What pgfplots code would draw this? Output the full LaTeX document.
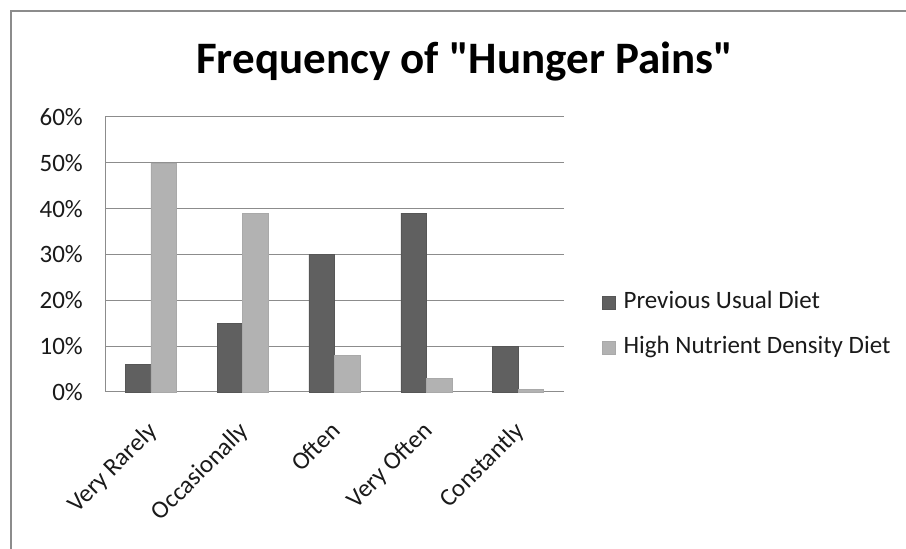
\documentclass[border=0pt]{standalone}
\usepackage{pgfplots}
\pgfplotsset{compat=1.18}
\usepackage{fontspec}
\setmainfont{Carlito}
\definecolor{darkbar}{HTML}{606060}
\definecolor{lightbar}{HTML}{B2B2B2}
\definecolor{gridc}{HTML}{8C8C8C}
\definecolor{framec}{HTML}{8C8C8C}
\definecolor{textc}{HTML}{1A1A1A}
\begin{document}
\begin{tikzpicture}[x=1pt,y=1pt]
\path[use as bounding box] (0,0) rectangle (906,549);
\draw[framec, line width=2pt] (10.5,0) -- (10.5,538) -- (906,538);
\begin{axis}[
  at={(105pt,157pt)}, anchor=south west,
  scale only axis, width=459pt, height=275pt,
  xmin=-0.5, xmax=4.5, ymin=0, ymax=60,
  ybar=0pt, bar width=0.278,
  xtick={0,1,2,3,4},
  xticklabels={Very Rarely, Occasionally, Often, Very Often, Constantly},
  ytick={0,10,20,30,40,50,60},
  yticklabels={0\%,10\%,20\%,30\%,40\%,50\%,60\%},
  major tick length=0pt,
  axis x line*=bottom, axis y line*=left,
  axis line style={gridc, line width=1pt},
  ymajorgrids, grid style={gridc, line width=1pt},
  tick label style={font=\fontsize{25}{29}\selectfont, text=textc},
  yticklabel style={inner sep=0pt, xshift=-22pt},
  xticklabel style={anchor=north east, inner sep=0pt, xshift=-5pt, yshift=-28pt, rotate=45},
  title={\fontsize{45}{52}\selectfont\bfseries Frequency of \textquotedbl Hunger Pains\textquotedbl},
  title style={at={(rel axis cs:0.784,1.138)}, anchor=base, inner sep=0pt},
  legend style={draw=none, fill=none, at={(rel axis cs:1.076,0.242)}, anchor=west,
    font=\fontsize{25}{29}\selectfont, text=textc, row sep=21pt,
    nodes={inner sep=0pt, text height=18pt, text depth=6pt}},
  legend cell align=left,
  legend image code/.code={\fill[#1] (0pt,-6.5pt) rectangle (13pt,6.5pt);},
  clip=false,
]
\addplot[fill=darkbar, draw=darkbar!90!black, line width=0.5pt] coordinates {(0,6) (1,15) (2,30) (3,39) (4,10)};
\addplot[fill=lightbar, draw=lightbar!95!black, line width=0.5pt] coordinates {(0,50) (1,39) (2,8) (3,3) (4,0.6)};
\legend{\hspace{8pt}Previous Usual Diet, \hspace{8pt}High Nutrient Density Diet}
\end{axis}
\end{tikzpicture}
\end{document}
